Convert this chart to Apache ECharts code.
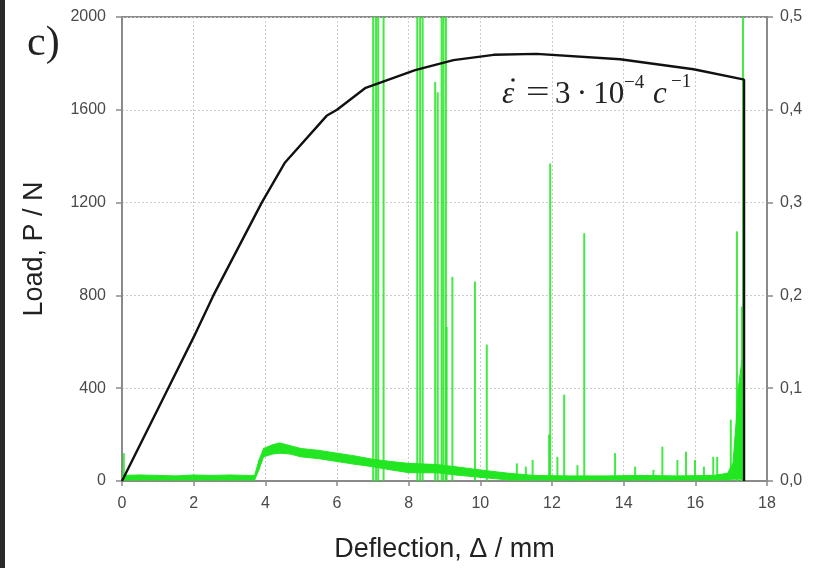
<!DOCTYPE html>
<html>
<head>
<meta charset="utf-8">
<script src="https://cdn.jsdelivr.net/npm/echarts@6/dist/echarts.min.js"></script>
<style>
  html, body { margin: 0; padding: 0; background: #fff; }
  #chart { width: 828px; height: 568px; }
</style>
</head>
<body>
<div id="chart"></div>
<script>
// Load curve, deflection (mm) vs load (N)
const defl = [0, 1.29, 2.0, 2.55, 3.9, 4.55, 5.71, 6.0, 6.8, 8.18, 9.25, 10.37, 11.57, 13.9, 15.95, 17.3, 17.36, 17.36];
const load = [0, 400, 620, 800, 1200, 1373, 1574, 1600, 1695, 1771, 1814, 1837, 1841, 1818, 1775, 1732, 1730, 0];

// Green signal (right axis): noise floor envelope
const aeX    = [0, 0.5, 1.0, 1.5, 2.0, 2.5, 3.0, 3.5, 3.7, 3.82, 3.95, 4.2, 4.4, 4.7, 5.0, 5.5, 6.0, 6.5, 7.0, 7.5, 8.0, 8.8, 9.3, 10.0, 10.8, 11.5, 12.5, 13.5, 14.5, 15.5, 16.5, 16.9, 17.05, 17.15, 17.2, 17.3, 17.36];
const aeLow  = [0.001, 0.001, 0.001, 0.001, 0.001, 0.001, 0.001, 0.001, 0.001, 0.012, 0.026, 0.029, 0.030, 0.029, 0.026, 0.024, 0.021, 0.018, 0.0154, 0.012, 0.009, 0.0088, 0.0065, 0.004, 0.001, 0.001, 0.001, 0.001, 0.001, 0.001, 0.001, 0.001, 0.002, 0.002, 0.002, 0.002, 0.002];
const aeHigh = [0.006, 0.0065, 0.006, 0.0055, 0.0065, 0.006, 0.0065, 0.006, 0.006, 0.022, 0.035, 0.039, 0.041, 0.038, 0.035, 0.033, 0.030, 0.027, 0.0234, 0.021, 0.019, 0.0177, 0.0154, 0.0119, 0.0083, 0.006, 0.0055, 0.0055, 0.006, 0.0055, 0.006, 0.0083, 0.019, 0.069, 0.10, 0.13, 0.10];

// Green bursts (right axis): position (mm) and peak
const burstX   = [0.05, 7.01, 7.09, 7.15, 7.30, 8.24, 8.32, 8.39, 8.74, 8.81, 8.92, 8.97, 9.04, 9.06, 9.22, 9.85, 10.18, 11.02, 11.27, 11.46, 11.92, 11.95, 12.15, 12.34, 12.71, 12.90, 13.76, 14.32, 14.83, 15.08, 15.50, 15.74, 15.99, 16.24, 16.50, 16.61, 16.99, 17.16, 17.30, 17.33];
const burstAmp = [0.030, 0.6, 0.6, 0.6, 0.6, 0.6, 0.6, 0.6, 0.430, 0.419, 0.6, 0.6, 0.6, 0.166, 0.220, 0.215, 0.147, 0.019, 0.0155, 0.0226, 0.05, 0.342, 0.026, 0.093, 0.017, 0.267, 0.030, 0.0155, 0.012, 0.037, 0.0226, 0.0316, 0.0226, 0.0155, 0.026, 0.026, 0.066, 0.269, 0.188, 0.6];

const green = '#22e622';
const axisGrey = '#8a8a8a';
const serif = '"Liberation Serif"';
const tickFont = { fontFamily: 'Liberation Sans', fontSize: 16, color: '#4a4a4a' };
const splitLine = { show: true, lineStyle: { color: '#cdcdcd', type: [2, 2], width: 1 } };

function renderBand(params, api) {
  const i = params.dataIndex;
  if (i >= aeX.length - 1) return null;
  const pts = [
    api.coord([aeX[i], aeLow[i]]),
    api.coord([aeX[i + 1], aeLow[i + 1]]),
    api.coord([aeX[i + 1], aeHigh[i + 1]]),
    api.coord([aeX[i], aeHigh[i]])
  ];
  return {
    type: 'polygon',
    shape: { points: pts },
    style: { fill: green, stroke: green, lineWidth: 1 }
  };
}

function renderBurst(params, api) {
  const p0 = api.coord([api.value(0), 0]);
  const p1 = api.coord([api.value(0), api.value(1)]);
  return {
    type: 'line',
    shape: { x1: p0[0], y1: p0[1], x2: p1[0], y2: p1[1] },
    style: { stroke: green, lineWidth: 2, opacity: 0.85 }
  };
}

function formulaText(text, x, y, size, italic, extra) {
  return Object.assign({
    type: 'text', x: x, y: y, z: 10,
    style: {
      text: text,
      font: (italic ? 'italic ' : '') + size + 'px ' + serif,
      fill: '#222',
      textVerticalAlign: 'middle'
    }
  }, extra || {});
}

const chart = echarts.init(document.getElementById('chart'));

chart.setOption({
  animation: false,
  backgroundColor: '#fff',
  grid: {
    left: 122, right: 61, top: 17, bottom: 87,
    show: true, borderColor: axisGrey, borderWidth: 2, backgroundColor: 'transparent'
  },
  xAxis: {
    type: 'value',
    min: 0, max: 18, interval: 2,
    name: 'Deflection, Δ / mm',
    nameLocation: 'middle',
    nameGap: 55,
    nameTextStyle: { fontFamily: 'Liberation Sans', fontSize: 27, color: '#222' },
    axisLine: { show: true, lineStyle: { color: axisGrey, width: 2 } },
    axisTick: { show: true, inside: false, length: 5, lineStyle: { color: axisGrey, width: 1.5 } },
    axisLabel: { ...tickFont, margin: 15, formatter: function (v) { return String(v); } },
    splitLine
  },
  yAxis: [
    {
      type: 'value',
      min: 0, max: 2000, interval: 400,
      name: 'Load, P / N',
      nameLocation: 'middle',
      nameRotate: 90,
      nameGap: 74,
      nameTextStyle: { fontFamily: 'Liberation Sans', fontSize: 27, color: '#222' },
      axisLine: { show: true, lineStyle: { color: axisGrey, width: 2 } },
      axisTick: { show: true, inside: false, length: 6, lineStyle: { color: axisGrey, width: 1.5 } },
      axisLabel: { ...tickFont, margin: 16, formatter: function (v) { return String(v); } },
      splitLine
    },
    {
      type: 'value',
      position: 'right',
      min: 0, max: 0.5, interval: 0.1,
      axisLine: { show: true, lineStyle: { color: axisGrey, width: 2 } },
      axisTick: { show: true, inside: false, length: 6, lineStyle: { color: axisGrey, width: 1.5 } },
      axisLabel: {
        ...tickFont, margin: 13,
        formatter: function (v) { return v.toFixed(1).replace('.', ','); }
      },
      splitLine: { show: false }
    }
  ],
  series: [
    {
      type: 'custom',
      name: 'aeBand',
      yAxisIndex: 1,
      clip: true,
      renderItem: renderBand,
      data: aeX.map((x, i) => [x, aeLow[i], aeHigh[i]]),
      z: 2
    },
    {
      type: 'custom',
      name: 'bursts',
      yAxisIndex: 1,
      clip: true,
      renderItem: renderBurst,
      data: burstX.map((x, i) => [x, burstAmp[i]]),
      z: 3
    },
    {
      type: 'line',
      name: 'load',
      yAxisIndex: 0,
      symbol: 'none',
      data: defl.map((x, i) => [x, load[i]]),
      lineStyle: { color: '#111', width: 2.4 },
      z: 5
    }
  ],
  graphic: [
    { type: 'rect', left: 0, top: 0, shape: { width: 5, height: 568 }, style: { fill: '#2a2a2a' } },
    {
      type: 'text', x: 27, y: 44,
      style: { text: 'c)', font: '42px ' + serif, fill: '#222', textVerticalAlign: 'middle' }
    },
    formulaText('ε', 502, 95, 31, true),
    { type: 'circle', shape: { cx: 513, cy: 80, r: 1.8 }, style: { fill: '#222' }, z: 10 },
    formulaText('=', 526, 94, 31, false, { scaleX: 1.35 }),
    formulaText('3\u2009·\u200910', 555, 95, 31, false),
    formulaText('−4', 624, 83, 19, false),
    formulaText('c', 653, 95, 31, true),
    formulaText('−1', 671, 82, 19, false)
  ]
});
</script>
</body>
</html>
